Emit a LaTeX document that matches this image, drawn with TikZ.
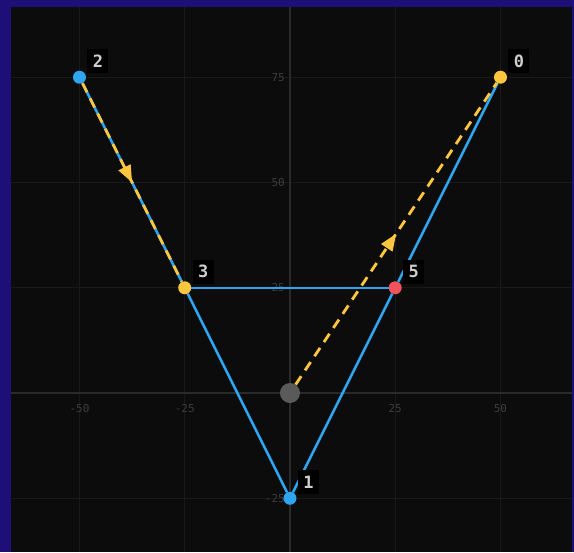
\documentclass[tikz,border=0pt]{standalone}
\usepackage{fontspec}
\setmonofont{DejaVu Sans Mono}
\usepackage{tikz}
\usetikzlibrary{positioning, arrows.meta, decorations.markings}
\definecolor{myblue}{HTML}{2FA4F0}
\definecolor{myyellow}{HTML}{FCC63E}
\definecolor{myred}{HTML}{F2525A}
\definecolor{mygray}{HTML}{5A5A5A}
\definecolor{bgdark}{HTML}{0C0C0C}
\definecolor{bgborder}{HTML}{1E0F78}
\definecolor{gridline}{HTML}{191919}
\definecolor{axisline}{HTML}{2A2A2A}
\definecolor{ticktext}{HTML}{3C3C3C}
\definecolor{labeltext}{HTML}{CFCFCF}
\tikzset{
	pointnode/.style={
			circle,
			draw=none,
			minimum size=13bp,
			inner sep=0pt
		},
	bluenode/.style={
			pointnode,
			fill=myblue
		},
	yellownode/.style={
			pointnode,
			fill=myyellow
		},
	rednode/.style={
			pointnode,
			fill=myred
		},
	originnode/.style={
			pointnode,
			fill=mygray,
			minimum size=20bp
		},
	pointlabel/.style={
			fill=black,
			text=labeltext,
			font=\ttfamily\bfseries\fontsize{17}{17}\selectfont,
			minimum width=21bp,
			minimum height=24bp,
			inner sep=2bp
		},
	ticklabel/.style={
			text=ticktext,
			font=\ttfamily\fontsize{11}{11}\selectfont,
			inner sep=0pt
		},
	edgeline/.style={
			myblue,
			line width=2.5bp
		},
	pathline/.style={
			myyellow,
			line width=2.8bp,
			dash pattern=on 10bp off 7bp,
			postaction={decorate},
			decoration={markings, mark=at position 0.5 with {\arrow{Triangle[length=17bp,width=13bp]}}}
		}
}
\begin{document}
\begin{tikzpicture}[x=4.21bp, y=4.21bp]
\useasboundingbox (-68.88,-37.77) rectangle (67.46,93.35);
\fill[bgborder] (-68.88,-37.77) rectangle (67.46,93.35);
\fill[bgdark] (-66.27,-37.77) rectangle (66.98,91.69);

% grid
\foreach \v in {-50,-25,25,50} {
	\draw[gridline, line width=1bp] (\v,-37.77) -- (\v,91.69);
	\node[ticklabel] at (\v,-3.6) {\v};
}
\foreach \v in {-25,25,50,75} {
	\draw[gridline, line width=1bp] (-66.27,\v) -- (66.98,\v);
	\node[ticklabel, anchor=east] at (-1.2,\v) {\v};
}
\draw[axisline, line width=1.2bp] (0,-37.77) -- (0,91.69);
\draw[axisline, line width=1.2bp] (-66.27,0) -- (66.98,0);

\node[yellownode] (p0) at (50,75) {};
\node[bluenode] (p1) at (0,-25) {};
\node[bluenode] (p2) at (-50,75) {};
\node[yellownode] (p3) at (-25,25) {};
\node[rednode] (p5) at (25,25) {};
\node[originnode] (origin) at (0,0) {};

\draw[edgeline] (p2) -- (p3);
\draw[edgeline] (p3) -- (p5);
\draw[edgeline] (p3) -- (p1);
\draw[edgeline] (p1) -- (p5);
\draw[edgeline] (p5) -- (p0);

\draw[pathline] (p2) -- (p3);
\draw[pathline] (origin) -- (p0);

\node[pointlabel, above right=-1bp and 3bp of p0] (l0) {0};
\node[pointlabel, above right=-1bp and 3bp of p1] (l1) {1};
\node[pointlabel, above right=-1bp and 3bp of p2] (l2) {2};
\node[pointlabel, above right=-1bp and 3bp of p3] (l3) {3};
\node[pointlabel, above right=-1bp and 3bp of p5] (l5) {5};
\end{tikzpicture}
\end{document}
